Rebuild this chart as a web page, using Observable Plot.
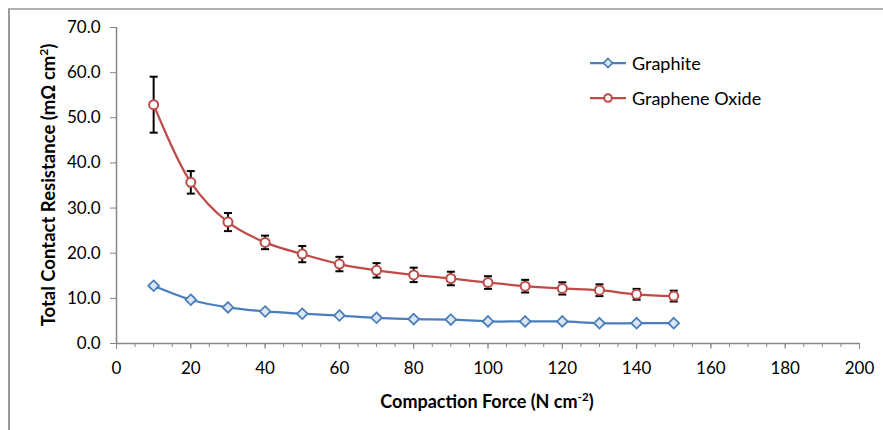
<!DOCTYPE html>
<html>
<head>
<meta charset="utf-8">
<script src="https://cdn.jsdelivr.net/npm/d3@7"></script>
<script src="https://cdn.jsdelivr.net/npm/@observablehq/plot@0.6"></script>
<style>
  html, body { margin: 0; padding: 0; background: #fff; }
  #chart { position: relative; width: 883px; height: 430px; overflow: hidden; font-family: Lato, "Open Sans", sans-serif; color: #000; }
  #chart > svg { position: absolute; left: 0; top: 0; }
  .frame { position: absolute; left: 8px; top: 8px; width: 1000px; height: 1000px; border-left: 2px solid #9a9a9a; border-top: 2px solid #b0b0b0; }
  .ytitle { position: absolute; left: 48px; top: 185px; transform: translate(-50%, -50%) rotate(-90deg); font-weight: bold; font-size: 18.5px; white-space: nowrap; }
  .xtitle { position: absolute; left: 487px; top: 401px; transform: translate(-50%, -50%); font-weight: bold; font-size: 18px; white-space: nowrap; }
  .legend { position: absolute; left: 588px; top: 45px; font-size: 18px; }
  .legend .row { display: flex; align-items: center; height: 35px; }
  .legend svg { display: block; margin-right: 4px; }
  sup { font-size: 0.65em; line-height: 0; }
</style>
</head>
<body>
<div id="chart">
  <div class="frame"></div>
</div>
<script>
// Total contact resistance versus compaction force
const force = [10, 20, 30, 40, 50, 60, 70, 80, 90, 100, 110, 120, 130, 140, 150];
const graphite = [12.8, 9.7, 8.0, 7.1, 6.6, 6.2, 5.7, 5.4, 5.3, 4.9, 4.9, 4.9, 4.5, 4.5, 4.5];
const graphiteErr = [0.4, 0.4, 0.3, 0.3, 0.3, 0.3, 0.3, 0.3, 0.3, 0.3, 0.3, 0.3, 0.3, 0.3, 0.3];
const grapheneOxide = [52.9, 35.7, 26.9, 22.4, 19.8, 17.6, 16.2, 15.2, 14.4, 13.5, 12.7, 12.2, 11.8, 10.9, 10.5];
const grapheneOxideErr = [6.2, 2.5, 2.0, 1.5, 1.8, 1.6, 1.6, 1.6, 1.5, 1.4, 1.4, 1.35, 1.3, 1.2, 1.2];
const seriesNames = ["Graphite", "Graphene Oxide"];
const xTicks = [0, 20, 40, 60, 80, 100, 120, 140, 160, 180, 200];
const xMinorTicks = d3.range(0, 201, 5);
const yTicks = [0, 10, 20, 30, 40, 50, 60, 70];

const colors = { "Graphite": "#4a7ebb", "Graphene Oxide": "#be4b48" };

const rowsGraphite = force.map((f, i) => ({ force: f, value: graphite[i], err: graphiteErr[i] }));
const rowsOxide = force.map((f, i) => ({ force: f, value: grapheneOxide[i], err: grapheneOxideErr[i] }));

// horizontal end-cap for the error bars
const capSymbol = {
  draw(context, size) {
    const r = Math.sqrt(size / Math.PI);
    context.moveTo(-r, 0);
    context.lineTo(r, 0);
  }
};

function errorBars(rows) {
  return [
    Plot.ruleX(rows, { x: "force", y1: d => d.value - d.err, y2: d => d.value + d.err, stroke: "black", strokeWidth: 2 }),
    Plot.dot(rows, { x: "force", y: d => d.value + d.err, symbol: capSymbol, r: 4, stroke: "black", strokeWidth: 2 }),
    Plot.dot(rows, { x: "force", y: d => d.value - d.err, symbol: capSymbol, r: 4, stroke: "black", strokeWidth: 2 })
  ];
}

const axisGray = "#868686";

const chart = Plot.plot({
  width: 883,
  height: 430,
  marginLeft: 116,
  marginRight: 24,
  marginTop: 27,
  marginBottom: 87,
  style: { fontFamily: "Lato, 'Open Sans', sans-serif", fontSize: "17px", background: "transparent", color: "black" },
  x: { domain: [0, 200] },
  y: { domain: [0, 70] },
  marks: [
    Plot.axisX({ ticks: xMinorTicks, tickSize: 4, tickFormat: () => "", stroke: axisGray, label: null }),
    Plot.axisX({ ticks: xTicks, tickSize: 6, tickPadding: 12, stroke: axisGray, fill: "black", label: null }),
    Plot.axisY({ ticks: yTicks, tickSize: 6, tickPadding: 10, tickFormat: d3.format(".1f"), stroke: axisGray, fill: "black", label: null }),
    Plot.ruleY([0], { stroke: axisGray, strokeWidth: 1.5 }),
    Plot.ruleX([0], { stroke: axisGray, strokeWidth: 1.5 }),
    ...errorBars(rowsOxide),
    ...errorBars(rowsGraphite),
    Plot.line(rowsGraphite, { x: "force", y: "value", stroke: colors["Graphite"], strokeWidth: 2.25, curve: "catmull-rom" }),
    Plot.line(rowsOxide, { x: "force", y: "value", stroke: colors["Graphene Oxide"], strokeWidth: 2.25, curve: "catmull-rom" }),
    Plot.dot(rowsGraphite, { x: "force", y: "value", symbol: "diamond2", r: 4.8, stroke: colors["Graphite"], fill: "#dce6f2", strokeWidth: 1.75 }),
    Plot.dot(rowsOxide, { x: "force", y: "value", symbol: "circle", r: 4.5, stroke: colors["Graphene Oxide"], fill: "white", strokeWidth: 2 })
  ]
});

const root = document.getElementById("chart");
root.appendChild(chart);

// axis titles
const yTitle = document.createElement("div");
yTitle.className = "ytitle";
yTitle.innerHTML = "Total Contact Resistance (mΩ cm<sup>2</sup>)";
root.appendChild(yTitle);

const xTitle = document.createElement("div");
xTitle.className = "xtitle";
xTitle.innerHTML = "Compaction Force (N cm<sup>-2</sup>)";
root.appendChild(xTitle);

// legend
const legend = document.createElement("div");
legend.className = "legend";
const swatch = {
  "Graphite": `<polygon points="20,2.5 24.5,7 20,11.5 15.5,7" fill="#dce6f2" stroke="${colors["Graphite"]}" stroke-width="1.75"/>`,
  "Graphene Oxide": `<circle cx="20" cy="7" r="3.8" fill="white" stroke="${colors["Graphene Oxide"]}" stroke-width="2"/>`
};
for (const name of seriesNames) {
  const row = document.createElement("div");
  row.className = "row";
  row.innerHTML = `<svg width="40" height="14"><line x1="2" x2="38" y1="7" y2="7" stroke="${colors[name]}" stroke-width="2.25"/>${swatch[name]}</svg><span>${name}</span>`;
  legend.appendChild(row);
}
root.appendChild(legend);
</script>
</body>
</html>
